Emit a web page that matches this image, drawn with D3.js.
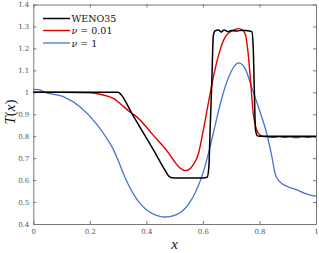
<!DOCTYPE html>
<html><head><meta charset="utf-8">
<script src="https://cdn.jsdelivr.net/npm/d3@7"></script>
<style>
body{margin:0;background:#fff;}
svg{display:block;}
.tick text{font-family:"DejaVu Serif","Liberation Serif",serif;font-size:7px;fill:#555;}
</style></head>
<body>
<svg id="c" width="319" height="253"></svg>
<script>
const xTicks = [0, 0.2, 0.4, 0.6, 0.8, 1];
const yTicks = [0.4, 0.5, 0.6, 0.7, 0.8, 0.9, 1, 1.1, 1.2, 1.3, 1.4];
const seriesNames = ["WENO35", "ν = 0.01", "ν = 1"];

const xWeno = [0, 0.30, 0.31, 0.348, 0.424, 0.47, 0.478, 0.486, 0.50, 0.60, 0.615, 0.621, 0.626, 0.631, 0.637, 0.643, 0.655, 0.665, 0.675, 0.69, 0.70, 0.72, 0.74, 0.76, 0.773, 0.778, 0.782, 0.786, 0.792, 0.80, 1.0];
const tWeno = [1.0, 1.0, 0.99, 0.905, 0.74, 0.636, 0.62, 0.612, 0.61, 0.61, 0.613, 0.66, 0.85, 1.03, 1.26, 1.28, 1.284, 1.275, 1.284, 1.276, 1.282, 1.279, 1.283, 1.28, 1.276, 1.20, 1.0, 0.83, 0.803, 0.80, 0.80];

const xNu001 = [0, 0.10, 0.20, 0.24, 0.283, 0.307, 0.342, 0.366, 0.424, 0.484, 0.50, 0.519, 0.537, 0.553, 0.566, 0.584, 0.601, 0.619, 0.637, 0.66, 0.678, 0.696, 0.712, 0.725, 0.737, 0.749, 0.76, 0.77, 0.778, 0.79, 0.80, 0.81, 0.83, 0.85, 0.87, 0.89, 0.91, 0.93, 0.95, 0.97, 0.99, 1.0];
const tNu001 = [1.0, 1.0, 0.998, 0.99, 0.972, 0.949, 0.91, 0.888, 0.805, 0.714, 0.683, 0.655, 0.643, 0.65, 0.67, 0.72, 0.825, 0.949, 1.07, 1.19, 1.25, 1.275, 1.285, 1.29, 1.285, 1.268, 1.177, 1.025, 0.904, 0.828, 0.808, 0.80, 0.797, 0.795, 0.798, 0.795, 0.797, 0.794, 0.797, 0.795, 0.797, 0.796];

const xNu1 = [0, 0.02, 0.041, 0.106, 0.165, 0.224, 0.26, 0.283, 0.30, 0.32, 0.34, 0.36, 0.377, 0.40, 0.425, 0.448, 0.465, 0.49, 0.515, 0.54, 0.566, 0.584, 0.601, 0.625, 0.645, 0.66, 0.68, 0.70, 0.715, 0.725, 0.735, 0.749, 0.772, 0.796, 0.826, 0.845, 0.855, 0.867, 0.879, 0.90, 0.932, 0.96, 0.98, 1.0];
const tNu1 = [1.013, 1.012, 1.0, 0.98, 0.934, 0.855, 0.79, 0.74, 0.69, 0.625, 0.57, 0.525, 0.495, 0.465, 0.445, 0.435, 0.432, 0.436, 0.448, 0.475, 0.525, 0.575, 0.635, 0.75, 0.86, 0.94, 1.03, 1.095, 1.125, 1.134, 1.13, 1.109, 1.025, 0.934, 0.81, 0.70, 0.63, 0.60, 0.585, 0.57, 0.555, 0.54, 0.532, 0.527];

const colors = ["#000000", "#e00000", "#4a72d6"];
const widths = [1.5, 1.4, 1.3];

const svg = d3.select("#c");
const L = 33.3, R = 316, T = 4.5, B = 224;
const x = d3.scaleLinear().domain([0, 1]).range([L, R]);
const y = d3.scaleLinear().domain([0.4, 1.4]).range([B, T]);
const fmt = d => d3.format("")(+d.toFixed(1));

const axCol = "#777";
function styleAxis(g){
  g.selectAll(".domain").attr("stroke", axCol).attr("stroke-width", 1);
  g.selectAll(".tick line").attr("stroke", axCol);
}
svg.append("g").attr("transform", `translate(0,${B})`)
  .call(d3.axisBottom(x).tickValues(xTicks).tickSizeInner(-3).tickSizeOuter(0).tickPadding(5).tickFormat(fmt)).call(styleAxis);
svg.append("g").attr("transform", `translate(${L},0)`)
  .call(d3.axisLeft(y).tickValues(yTicks).tickSizeInner(-3).tickSizeOuter(0).tickPadding(4).tickFormat(fmt)).call(styleAxis);
svg.append("g").attr("transform", `translate(0,${T})`)
  .call(d3.axisTop(x).tickValues(xTicks).tickSizeInner(-3).tickSizeOuter(0).tickFormat("")).call(styleAxis);
svg.append("g").attr("transform", `translate(${R},0)`)
  .call(d3.axisRight(y).tickValues(yTicks).tickSizeInner(-3).tickSizeOuter(0).tickFormat("")).call(styleAxis);

const series = [
  {xs: xWeno, ts: tWeno},
  {xs: xNu001, ts: tNu001},
  {xs: xNu1, ts: tNu1}
];
const line = d3.line().x(d => x(d[0])).y(d => y(d[1])).curve(d3.curveMonotoneX);
const plot = svg.append("g");
[2, 1, 0].forEach(i => {
  const s = series[i];
  plot.append("path").datum(s.xs.map((v, k) => [v, s.ts[k]]))
    .attr("d", line).attr("fill", "none")
    .attr("stroke", colors[i]).attr("stroke-width", widths[i]).attr("stroke-linejoin", "round");
});

// legend
const lg = svg.append("g");
const ly = [18.5, 30.5, 43];
seriesNames.forEach((n, i) => {
  lg.append("line").attr("x1", 43).attr("x2", 70).attr("y1", ly[i]).attr("y2", ly[i])
    .attr("stroke", colors[i]).attr("stroke-width", widths[i]);
  const t = lg.append("text").attr("x", 71.5).attr("y", ly[i] + 3.5)
    .attr("font-family", "'DejaVu Serif','Liberation Serif',serif").attr("font-size", 9.5).attr("fill", "#111");
  if (i === 0) t.text(n);
  else {
    t.append("tspan").attr("font-style", "italic").text("ν");
    t.append("tspan").text(n.slice(1));
  }
});

// axis labels
const yl = svg.append("text").attr("transform", `translate(15,112) rotate(-90)`)
  .attr("text-anchor", "middle").attr("font-family", "'Liberation Serif','DejaVu Serif',serif")
  .attr("font-size", 15).attr("fill", "#111");
yl.append("tspan").attr("font-style", "italic").text("T");
yl.append("tspan").text("(");
yl.append("tspan").attr("font-style", "italic").text("x");
yl.append("tspan").text(")");
svg.append("text").attr("x", x(0.5)).attr("y", 249).attr("text-anchor", "middle")
  .attr("font-family", "'Liberation Serif','DejaVu Serif',serif").attr("font-style", "italic")
  .attr("font-size", 15).attr("fill", "#111").text("x");
</script>
</body></html>
